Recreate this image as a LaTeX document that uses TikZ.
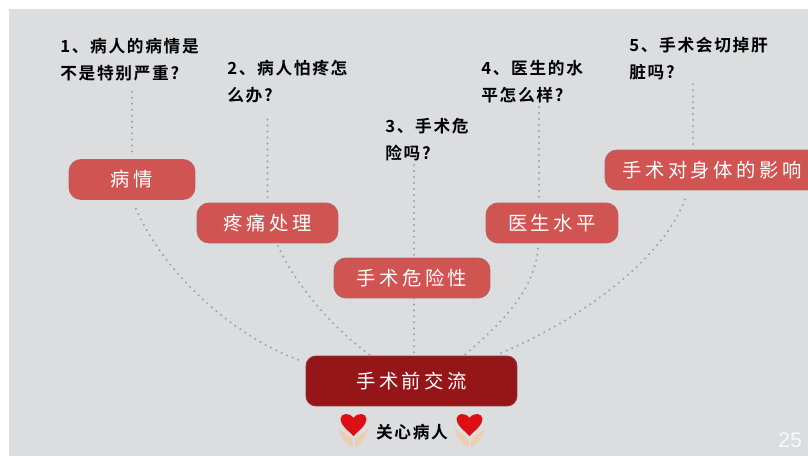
\documentclass[tikz,border=0pt]{standalone}
\usepackage{fontspec}
\newfontfamily\askfont[LetterSpace=10]{Noto Sans CJK SC Bold}
\newfontfamily\boxfont[LetterSpace=18]{Noto Sans CJK SC}
\setsansfont{Liberation Sans}
\definecolor{panelgray}{HTML}{DCDDDF}
\definecolor{boxred}{HTML}{CF5452}
\definecolor{rootred}{HTML}{951618}
\definecolor{dotgray}{HTML}{A0A1A3}
\definecolor{handskin}{HTML}{EBCFB0}
\definecolor{heartred}{HTML}{DD0F14}

\begin{document}
\begin{tikzpicture}
    [
        x=0.02cm, y=-0.02cm,
        ask_style/.style={anchor=west, inner sep=0pt, align=left, text=black,
            font=\askfont\fontsize{9.5}{15.3}\selectfont},
        box_style/.style={rectangle, rounded corners=0.24cm, fill=boxred, draw=boxred!70!gray,
            line width=0.5pt, text=white, inner sep=0pt, minimum height=0.8cm,
            font=\boxfont\fontsize{11}{13}\selectfont},
        root_style/.style={box_style, fill=rootred, draw=rootred!70!gray, minimum height=1cm,
            rounded corners=0.2cm},
        dot_style/.style={draw=dotgray, line width=1.3pt, line cap=round,
            dash pattern=on 0pt off 3.4pt},
        careheart/.pic={
            \fill[handskin] (-1,17) .. controls (-7,15) and (-13,8) .. (-15,-2)
                .. controls (-11,3) and (-6,4) .. (-1,9) -- cycle;
            \fill[handskin] (1,17) .. controls (7,15) and (13,8) .. (15,-2)
                .. controls (11,3) and (6,4) .. (1,9) -- cycle;
            \fill[heartred] (0,6) .. controls (-6,0) and (-13,-5) .. (-13,-11)
                .. controls (-13,-17) and (-4,-18) .. (0,-12)
                .. controls (4,-18) and (13,-17) .. (13,-11)
                .. controls (13,-5) and (6,0) .. (0,6) -- cycle;
        }
    ]
        \useasboundingbox (0,0) rectangle (808,456);
        \fill[white] (0,0) rectangle (808,456);
        \fill[panelgray] (9,9) rectangle (808,456);

        \node[ask_style] (q1) at (60,59.5) {1、病人的病情是\\不是特别严重?};
        \node[ask_style] (q2) at (227,82) {2、病人怕疼怎\\么办?};
        \node[ask_style] (q3) at (385,140) {3、手术危\\险吗?};
        \node[ask_style] (q4) at (481,82) {4、医生的水\\平怎么样?};
        \node[ask_style] (q5) at (629,59) {5、手术会切掉肝\\脏吗?};

        \node[box_style, minimum width=2.52cm] (b1) at (132,179.5) {病情};
        \node[box_style, minimum width=2.82cm] (b2) at (267.5,223) {疼痛处理};
        \node[box_style, minimum width=3.12cm] (b3) at (412,278) {手术危险性};
        \node[box_style, minimum width=2.64cm] (b4) at (552,223) {医生水平};
        \node[box_style, minimum width=4.28cm] (b5) at (712,170) {手术对身体的影响};
        \node[root_style, minimum width=4.22cm] (root) at (411.5,381) {手术前交流};

        \coordinate (x3) at (414,0);
        \coordinate (x4) at (539,0);
        \coordinate (x5) at (693,0);

        \draw[dot_style, shorten <=6pt, shorten >=4pt] (q1.south -| b1) -- (b1.north);
        \draw[dot_style, shorten <=9pt, shorten >=3pt] (q2.south -| b2) -- (b2.north);
        \draw[dot_style, shorten <=2pt, shorten >=0pt] (q3.south -| x3) -- (b3.north -| x3);
        \draw[dot_style, shorten <=2pt, shorten >=3pt] (q4.south -| x4) -- (b4.north -| x4);
        \draw[dot_style, shorten <=2pt, shorten >=0pt] (q5.south -| x5) -- (b5.north -| x5);

        \draw[dot_style, shorten <=5.5pt, shorten >=2pt] (b1.south) .. controls (165,275) and (235,338) .. (root.170);
        \draw[dot_style, shorten <=1.5pt, shorten >=1pt] (b2.-65) .. controls (295,285) and (335,330) .. (root.148);
        \draw[dot_style] (b3.south -| x3) -- (root.north -| x3);
        \draw[dot_style, shorten <=3pt, shorten >=1pt] (b4.-124) .. controls (535,290) and (500,325) .. (root.26);
        \draw[dot_style, shorten <=5.5pt, shorten >=1pt] (b5.-139) .. controls (660,265) and (570,325) .. (root.17);

        \pic at (353.5,430) {careheart};
        \pic at (469.5,430) {careheart};
        \node[ask_style, anchor=center] (care) at (412,432) {关心病人};
        \node[font=\sffamily\fontsize{12}{14}\selectfont, text=white!95!gray, inner sep=0pt] (page) at (790,440) {25};
\end{tikzpicture}
\end{document}
